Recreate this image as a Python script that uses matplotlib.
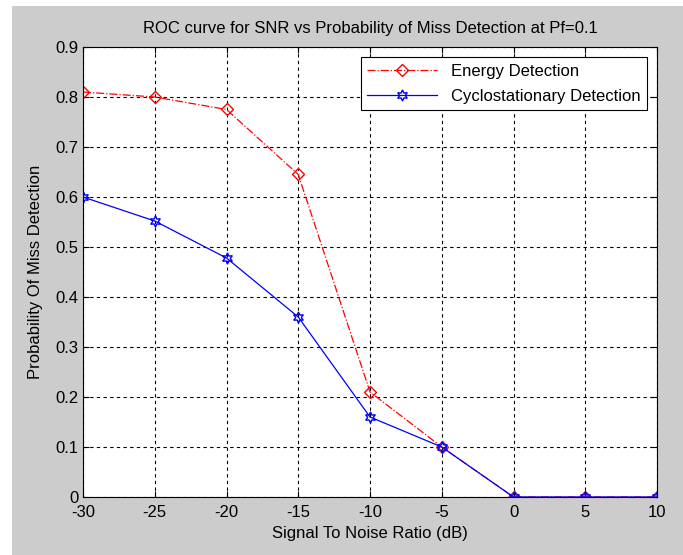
import matplotlib.pyplot as plt
from matplotlib.patches import Rectangle

# data
snr = [-30, -25, -20, -15, -10, -5, 0, 5, 10]
energy = [0.81, 0.80, 0.775, 0.645, 0.21, 0.10, 0, 0, 0]
cyclo = [0.60, 0.552, 0.478, 0.36, 0.16, 0.10, 0, 0, 0]

plt.rcParams['font.family'] = ['Liberation Sans', 'DejaVu Sans']
plt.rcParams['axes.unicode_minus'] = False

fs = 12

fig = plt.figure(figsize=(6.83, 5.55), dpi=100, facecolor='white')
# grey MATLAB-like figure background, white strip at the top and left
fig.patches.append(Rectangle((12/683, 0), 1, (555-6)/555, transform=fig.transFigure,
                             facecolor='#cccccc', edgecolor='none', zorder=-1))

ax = fig.add_axes([83/683, 58/555, 574/683, 450/555])
ax.plot(snr, energy, color='red', linestyle='-.', linewidth=0.9, marker='D',
        markersize=6.5, markerfacecolor='none', markeredgecolor='red', label='Energy Detection')
ax.plot(snr, cyclo, color='blue', linestyle='-', linewidth=0.9, marker=(6, 1, 0),
        markersize=8, markerfacecolor='none', markeredgecolor='blue', label='Cyclostationary Detection')

ax.set_xlim(-30, 10)
ax.set_ylim(0, 0.9)
ax.set_xticks(range(-30, 11, 5))
ax.set_yticks([i/10 for i in range(10)])
ax.set_yticklabels(['0'] + ['%.1f' % (i/10) for i in range(1, 10)])
ax.grid(True, color='black', linestyle=(0, (3, 3)), linewidth=0.8)
ax.tick_params(direction='in', top=True, right=True, labelsize=fs, length=4)
ax.tick_params(axis='x', pad=6)
for s in ax.spines.values():
    s.set_linewidth(0.8)

ax.set_title('ROC curve for SNR vs Probability of Miss Detection at Pf=0.1', fontsize=fs, pad=10)
ax.set_xlabel('Signal To Noise Ratio (dB)', fontsize=fs, labelpad=4)
ax.set_ylabel('Probability Of Miss Detection', fontsize=fs, labelpad=9)

leg = ax.legend(loc='upper right', fontsize=fs, fancybox=False, edgecolor='black',
                framealpha=1, handlelength=4.2, labelspacing=0.6, borderaxespad=0.6)
leg.get_frame().set_linewidth(0.8)

fig.savefig('out.png', dpi=100, facecolor=fig.get_facecolor())
